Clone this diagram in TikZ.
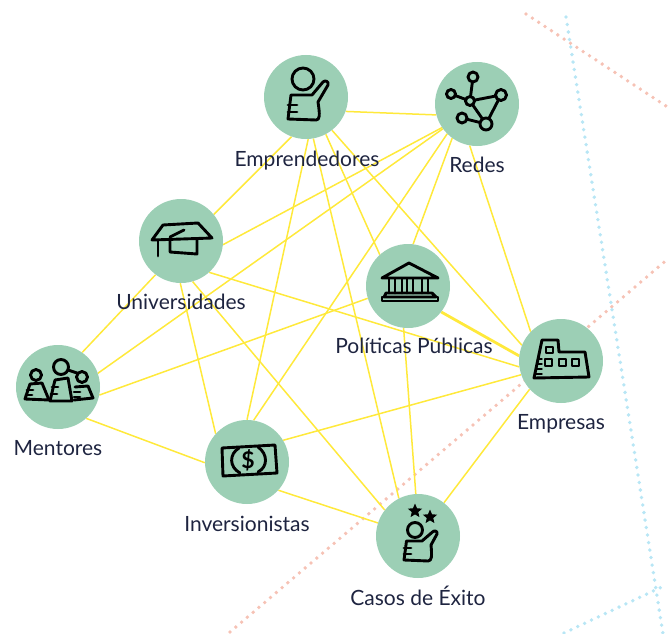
\documentclass[tikz,border=0pt]{standalone}
\usepackage{fontspec}
\setmainfont{Lato}
\usetikzlibrary{backgrounds,shapes.geometric}
\definecolor{verde}{HTML}{9CCFB5}
\definecolor{amarillo}{HTML}{FFE93B}
\definecolor{salmon}{HTML}{F6C2B5}
\definecolor{celeste}{HTML}{B8E6F5}
\definecolor{tinta}{HTML}{1E2440}
\tikzset{
actor/.style={circle,fill=verde,minimum size=84pt,inner sep=0pt},
etiqueta/.style={anchor=base,text=tinta,inner sep=0pt,font=\fontsize{21}{24}\selectfont},
enlace/.style={draw=amarillo,line width=1.5pt},
puntos/.style={line cap=round,line width=3.8pt,dash pattern=on 0pt off 7.6pt},
icono/.style={line width=2.9pt,line join=round,line cap=round},
}
\tikzstyle{estrella} = [star, star points=5, star point ratio=2.2, fill=black, inner sep=0pt, minimum size=15pt]

\begin{document}
\begin{tikzpicture}[x=1pt,y=-1pt]
\useasboundingbox (0,0) rectangle (669,634);

\node (emprendedores) [actor] at (306,97) {};
\node (redes) [actor] at (477,104) {};
\node (universidades) [actor] at (181,241) {};
\node (politicas) [actor] at (408,286) {};
\node (mentores) [actor] at (58,387) {};
\node (empresas) [actor] at (561,361) {};
\node (inversionistas) [actor] at (247,462) {};
\node (casos) [actor] at (418,536) {};

\node (lemprendedores) [etiqueta] at (307,166) {Emprendedores};
\node (lredes) [etiqueta] at (477,172) {Redes};
\node (luniversidades) [etiqueta] at (181,309) {Universidades};
\node (lpoliticas) [etiqueta] at (414,353) {Políticas Públicas};
\node (lmentores) [etiqueta] at (58,455) {Mentores};
\node (lempresas) [etiqueta] at (561,429) {Empresas};
\node (linversionistas) [etiqueta] at (247,531) {Inversionistas};
\node (lcasos) [etiqueta] at (418,605) {Casos de Éxito};

\coordinate (rojo1) at (526,14);
\coordinate (rojo2) at (669,108);
\coordinate (rojo3) at (230,632);
\coordinate (rojo4) at (669,258);
\coordinate (azul1) at (566,17);
\coordinate (azul2) at (663,634);
\coordinate (azul3) at (564,633);
\coordinate (azul4) at (666,585);

\begin{scope}[on background layer]
\draw[puntos,salmon] (rojo1) -- (rojo2);
\draw[puntos,salmon] (rojo3) -- (rojo4);
\draw[puntos,celeste] (azul1) -- (azul2);
\draw[puntos,celeste] (azul3) -- (azul4);

\draw[enlace] (emprendedores.-20) -- (redes.195);
\draw[enlace] (emprendedores.-110) -- (universidades.39);
\draw[enlace] (emprendedores.-87) -- (inversionistas.90);
\draw[enlace] (emprendedores.-80) -- (casos.117);
\draw[enlace] (emprendedores.-62) -- (politicas.132);
\draw[enlace] (emprendedores.-52) -- (empresas.158);
\draw[enlace] (redes.214) -- (universidades.-5);
\draw[enlace] (redes.216) -- (mentores.19);
\draw[enlace] (redes.225) -- (inversionistas.81);
\draw[enlace] (redes.234) -- (politicas.83);
\draw[enlace] (redes.260) -- (empresas.136);
\draw[enlace] (universidades.233) -- (mentores.55);
\draw[enlace] (universidades.-91) -- (inversionistas.138);
\draw[enlace] (universidades.-74) -- (casos.142);
\draw[enlace] (universidades.-48) -- (empresas.188);
\draw[enlace] (mentores.-11) -- (politicas.197);
\draw[enlace] (mentores.-48) -- (inversionistas.181);
\draw[enlace] (inversionistas.-42) -- (casos.162);
\draw[enlace] (inversionistas.31) -- (empresas.199);
\draw[enlace] (politicas.-96) -- (casos.93);
\draw[enlace,line width=2.8pt] (politicas.-38) -- (empresas.173);
\draw[enlace] (empresas.222) -- (casos.52);
\end{scope}

% emprendedores
\begin{scope}[shift={(emprendedores.center)},icono]
\draw (-3,-18) circle (11);
\draw (-15,-2) -- (-18,22) -- (10,23) .. controls (14,23) and (14,18) .. (12,5) -- (22,-12) .. controls (23,-16) and (19,-17) .. (17,-15) -- (6,-2) -- cycle;
\draw (-18,8) -- (-9,8);
\draw (-18,15) -- (-9,15);
\end{scope}

% redes
\begin{scope}[shift={(redes.center)},icono]
\draw (-4,-27) -- (-7,-3) -- (-26,-10);
\draw (-7,-3) -- (24,-9) -- (9,20) -- (-7,-3);
\draw (-15,14) -- (9,20);
\draw[fill=verde] (-4,-27) circle (5);
\draw[fill=verde] (-26,-10) circle (4.5);
\draw[fill=verde] (-7,-3) circle (4.5);
\draw[fill=verde] (24,-9) circle (5.5);
\draw[fill=verde] (-15,14) circle (5);
\draw[fill=verde] (9,20) circle (6);
\end{scope}

% universidades
\begin{scope}[shift={(universidades.center)},icono]
\draw (-29,-1) -- (-18,-16) -- (17,-18) -- (31,-3) -- cycle;
\draw (-11,-1) -- (-11,11) -- (16,13) -- (16,-2);
\draw (-23,-1) -- (-23,15);
\draw (-11,-4) -- (3,-11);
\end{scope}

% politicas
\begin{scope}[shift={(politicas.center)},icono]
\draw (-26,-8) -- (1,-23) -- (30,-8) -- cycle;
\draw (-19,-7) -- (-19,7) (-13,-7) -- (-13,7) (-6,-7) -- (-6,7);
\draw (-1,-7) -- (-1,7) (5,-7) -- (5,7) (14,-7) -- (14,7) (20,-7) -- (20,7);
\draw (-22,7) -- (24,7) -- (28,11) -- (-24,11) -- cycle;
\draw (-26,11) -- (-26,15) -- (30,15) -- (30,11) -- cycle;
\end{scope}

% mentores
\begin{scope}[shift={(mentores.center)},icono]
\draw (-22,-12) circle (5.5);
\draw (-28,-3) -- (-16,-4) -- (-9,13) -- (-33,12) -- cycle;
\draw (-31,3) -- (-25,3) (-32,8) -- (-26,8);
\draw (3,-20) circle (7.5);
\draw (-3,-7) -- (10,-9) -- (14,14) -- (-8,14) -- cycle;
\draw (-6,0) -- (0,0) (-7,7) -- (-1,7);
\draw (10,-17) -- (19,-14);
\draw (24,-10) circle (5.5);
\draw (17,0) -- (30,-1) -- (35,11) -- (16,13);
\draw (16,5) -- (22,5) (16,10) -- (22,10);
\end{scope}

% empresas
\begin{scope}[shift={(empresas.center)},icono]
\draw (-27,17) -- (-19,-21) -- (-3,-21) -- (-2,-9) -- (24,-9) -- (28,16) -- cycle;
\draw (-15,-14) rectangle (-8,-8);
\draw (-16,-2) rectangle (-9,5);
\draw (-2,-2) rectangle (5,5);
\draw (11,-2) rectangle (18,5);
\draw[line width=1.4pt] (-23,-2) -- (-19,-2) (-24,3) -- (-19,3) (-25,8) -- (-19,8) (-26,13) -- (-19,13);
\end{scope}

% inversionistas
\begin{scope}[shift={(inversionistas.center)},icono]
\draw (-25,-14) -- (28,-17) -- (30,11) -- (-24,14) -- cycle;
\draw (-8,-14) .. controls (-18,-8) and (-18,5) .. (-7,11);
\draw (11,-15) .. controls (21,-8) and (21,5) .. (11,10);
\node (dolar) [text=black,inner sep=0pt,font=\fontsize{23}{23}\selectfont\bfseries] at (1,-2) {\$};
\end{scope}

% casos
\begin{scope}[shift={(casos.center)},icono]
\draw (-3,-6) circle (7.5);
\draw (-11.5,5) -- (-14,24) -- (10,25) .. controls (14,25) and (14,20) .. (13,9) -- (19,-2) .. controls (20,-5) and (16,-6) .. (14.5,-4) -- (4,5) -- cycle;
\draw (-14,12) -- (-7,12);
\draw (-14,18) -- (-7,18);
\node (estrella1) [estrella] at (-3,-25) {};
\node (estrella2) [estrella] at (12,-19) {};
\end{scope}
\end{tikzpicture}
\end{document}
